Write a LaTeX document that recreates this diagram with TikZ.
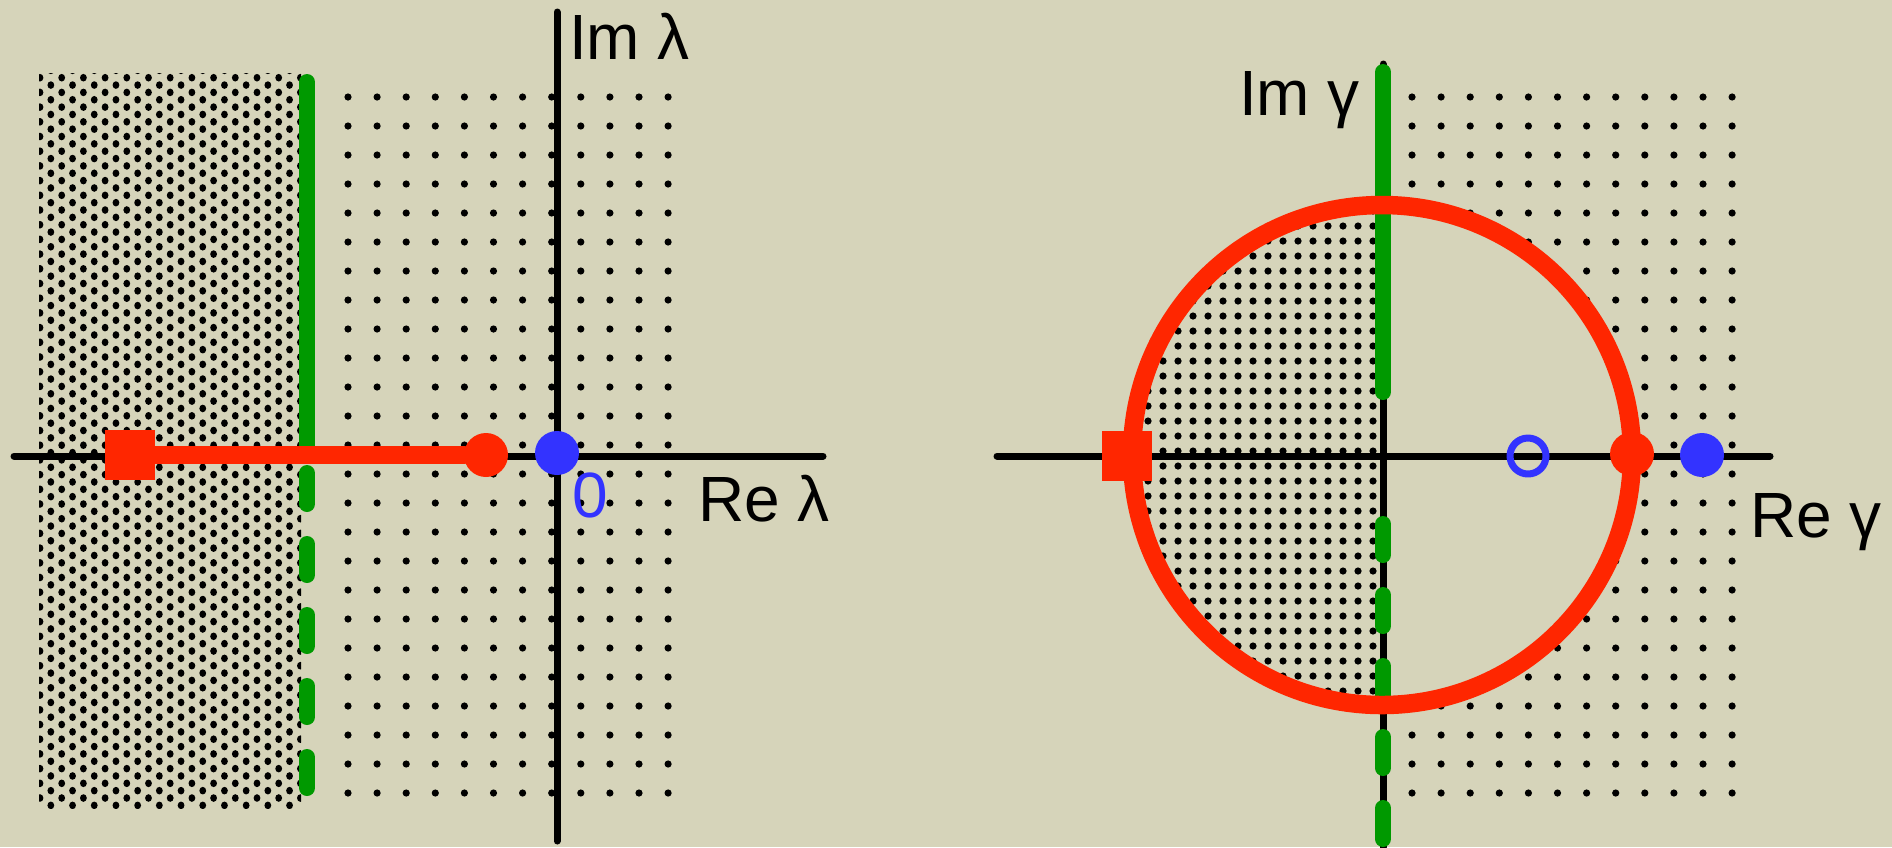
\documentclass[tikz,border=0pt]{standalone}
\usepackage{fontspec}
\setmainfont{Liberation Sans}
\definecolor{paper}{RGB}{214,212,186}
\definecolor{pole}{RGB}{255,38,0}
\definecolor{stab}{RGB}{0,153,0}
\definecolor{zero}{RGB}{51,51,255}
\begin{document}
\begin{tikzpicture}[line join=round,line cap=round,x=0.1mm,y=-0.1mm,font=\fontsize{18.2}{20}\selectfont]
	\tikzset{every node/.style={inner sep=0pt,outer sep=0pt}}
	\tikzset{axis/.style={line width=0.7mm,black},
		stabline/.style={line width=1.6mm,stab},
		stabdash/.style={stabline,dash pattern=on 3.1mm off 4mm},
		polepath/.style={line width=1.85mm,pole},
		box/.style={fill=pole,minimum size=5mm},
		pin/.style={circle,fill=pole,minimum size=4.4mm},
		bluedot/.style={circle,fill=zero,minimum size=4.4mm},
		bluering/.style={circle,draw=zero,line width=0.7mm,minimum size=3.6mm}}
	\def \W{1892} \def \H{847}
	\def \R{250}
	\fill[paper] (0,0) rectangle (\W,\H);
	\useasboundingbox (0,0) rectangle (\W,\H);
	\foreach \x/\y/\n in {14/456/L1,823/456/L2,557/12/L3,557/841/L4,
		307/82/G1,307/456/G2,307/473/G3,307/800/G4,
		997/456/R1,1770/456/R2,1383/64/R3,1383/847/R4,
		1383/72/H1,1383/392/H2,1383/524/H3,1383/847/H4,1382/455/C}
		\coordinate (\n) at (\x,\y);
	% dense dots, left strip
	\begin{scope}
		\clip (39,73) rectangle (301,808);
		\foreach \r in {0,...,100}
			\foreach \c in {-1,...,12}
				\fill ({40+10.85*(1-mod(\r,2))+21.7*\c},{70.35+7.35*\r}) ellipse (3.4 and 3.8);
	\end{scope}
	% sparse dots
	\foreach \i in {0,...,11}
		\foreach \j in {0,...,24}{
			\fill ({348+29.1*\i},{97+29*\j}) circle (3.6);
			\fill ({1412+29.1*\i},{97+29*\j}) circle (3.6);
		}
	\fill[paper] (C) circle (\R);
	% dense dots inside the circle
	\begin{scope}
		\clip (C) circle (\R);
		\foreach \i in {0,...,16}
			\foreach \j in {-16,...,16}
				\fill ({1373-15*\i},{451+15*\j}) circle (3.6);
	\end{scope}
	\draw[axis] (L1)--(L2) (L3)--(L4);
	\draw[axis] (R1)--(R2) (R3)--(R4);
	\draw[stabline] (G1)--(G2);
	\draw[stabdash] (G3)--(G4);
	\draw[stabline] (H1)--(H2);
	\draw[stabdash] (H3)--(H4);
	\draw[polepath] (C) circle (\R);
	% left plane
	\node[box] (sq1) at (130,455) {};
	\node[pin] (p1) at (486,455) {};
	\draw[polepath] (sq1)--(p1);
	\node[bluedot] (z1) at (557,453) {};
	\node[text=zero,anchor=base west] (zlbl) at (572,517) {0};
	\node[anchor=base west] (imL) at (569,59) {Im λ};
	\node[anchor=base west] (reL) at (698,521) {Re λ};
	% right plane
	\node[box] (sq2) at (1127,456) {};
	\node[pin] (p2) at (1632,454) {};
	\node[bluedot] (z2) at (1702,455) {};
	\node[bluering] (z3) at (1528,456) {};
	\node[anchor=base west] (imG) at (1239,115) {Im γ};
	\node[anchor=base west] (reG) at (1750,537) {Re γ};
\end{tikzpicture}
\end{document}
